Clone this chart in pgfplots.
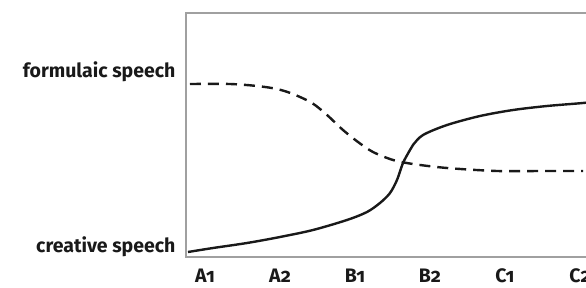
\documentclass[border=0pt]{standalone}
\usepackage{pgfplots}
\pgfplotsset{compat=1.18}
\usepackage{fontspec}
\setmainfont{Fira Sans}[Numbers=OldStyle]
\definecolor{framegray}{RGB}{160,160,160}
\definecolor{curve}{RGB}{25,25,25}
\begin{document}
\begin{tikzpicture}
\begin{axis}[
  at={(0pt,0pt)}, anchor=south west,
  scale only axis, width=414pt, height=244pt,
  xmin=-0.2533, xmax=5.2667, ymin=0, ymax=244,
  axis line style={draw=framegray, line width=2pt},
  xtick={0,1,2,3,4,5},
  xticklabels={A1,A2,B1,B2,C1,C2},
  ytick={10,185},
  yticklabels={creative speech,formulaic speech},
  major tick length=0pt,
  tick label style={font=\bfseries\fontsize{19.5}{19.5}\selectfont, text=black!90},
  xticklabel style={inner sep=0pt, yshift=-11.5pt},
  yticklabel style={xshift=-7pt},
  clip=false,
]
\addplot[curve, line width=2.4pt, smooth] coordinates {
(-0.227,5) (0.107,9) (0.56,14) (1.0,20) (1.44,27) (1.893,37) (2.16,45)
(2.333,54) (2.467,64) (2.56,77) (2.64,94) (2.733,107) (2.773,112)
(2.907,122) (3.227,132) (3.667,141) (4.107,147) (4.56,151) (5.04,154) (5.27,156)
};
\addplot[curve, line width=2.4pt, smooth, dash pattern=on 11pt off 7pt] coordinates {
(-0.2,173) (0.333,173) (0.693,171) (0.96,168) (1.173,163) (1.427,154)
(1.627,142) (1.84,127) (2.04,115) (2.24,105) (2.507,97) (2.773,93)
(3.227,89) (3.893,86) (4.5,86) (5.04,86)
};
\end{axis}
\pgfresetboundingbox
\path[use as bounding box] (-186pt,-30pt) rectangle (400pt,257pt);
\end{tikzpicture}
\end{document}
